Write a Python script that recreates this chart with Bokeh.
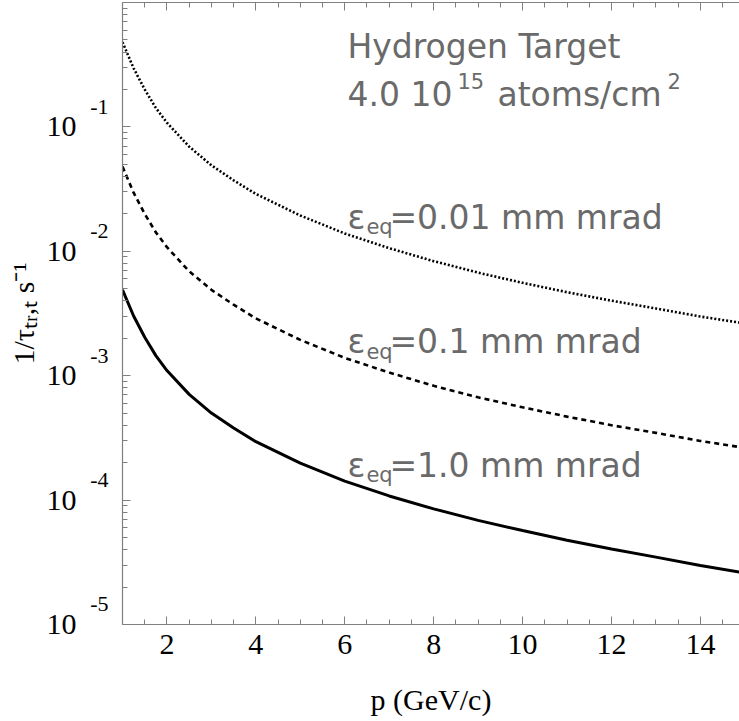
from bokeh.plotting import figure
from bokeh.models import Range1d, LinearAxis, LogAxis, Label, FixedTicker, CustomJSTickFormatter
from bokeh.embed import file_html
from bokeh.resources import INLINE

# ---- data ----
p_gev = [1, 1.25, 1.5, 1.75, 2, 2.5, 3, 3.5, 4, 5, 6, 7, 8, 9, 10, 11, 12, 13, 14, 15]
rate_eps_1_0 = [4.90e-3, 3.02e-3, 2.04e-3, 1.45e-3, 1.10e-3, 7.08e-4, 5.01e-4, 3.80e-4,
                2.95e-4, 1.98e-4, 1.42e-4, 1.08e-4, 8.50e-5, 6.87e-5, 5.69e-5, 4.75e-5,
                4.05e-5, 3.48e-5, 2.98e-5, 2.60e-5]
rate_eps_0_1 = [4.80e-2, 2.96e-2, 2.00e-2, 1.42e-2, 1.08e-2, 6.90e-3, 4.90e-3, 3.72e-3,
                2.89e-3, 1.94e-3, 1.39e-3, 1.06e-3, 8.30e-4, 6.70e-4, 5.57e-4, 4.69e-4,
                4.00e-4, 3.47e-4, 2.99e-4, 2.63e-4]
rate_eps_0_01 = [4.80e-1, 2.96e-1, 2.00e-1, 1.42e-1, 1.08e-1, 6.94e-2, 4.91e-2, 3.72e-2,
                 2.89e-2, 1.94e-2, 1.39e-2, 1.06e-2, 8.33e-3, 6.73e-3, 5.58e-3, 4.69e-3,
                 4.01e-3, 3.47e-3, 2.99e-3, 2.63e-3]
x_major_ticks = [2, 4, 6, 8, 10, 12, 14]
y_decades = [1e-5, 1e-4, 1e-3, 1e-2, 1e-1]
curve_labels = ["=0.01 mm mrad", "=0.1 mm mrad", "=1.0 mm mrad"]

AXIS_GRAY = "#808080"
TEXT_GRAY = "#6a6a6a"
SERIF = "Liberation Serif"
SANS = "DejaVu Sans"

p = figure(width=739, height=721, x_range=Range1d(1, 14.88), y_range=Range1d(1e-5, 1),
           y_axis_type="log", output_backend="svg", toolbar_location=None,
           min_border_left=122, min_border_right=0, min_border_top=2, min_border_bottom=97,
           outline_line_color=None, background_fill_color="white", border_fill_color="white")
p.xgrid.visible = False
p.ygrid.visible = False

x_minor = [m / 2 for m in range(2, 31)]
x_ticker = FixedTicker(ticks=x_major_ticks, minor_ticks=x_minor)
y_minor = [k * d for d in y_decades for k in range(2, 10)]
y_ticker = FixedTicker(ticks=y_decades, minor_ticks=y_minor)
blank = CustomJSTickFormatter(code="return '';")


def style_axis(ax):
    ax.axis_line_color = AXIS_GRAY
    ax.axis_line_width = 1.2
    ax.major_tick_line_color = AXIS_GRAY
    ax.minor_tick_line_color = AXIS_GRAY
    ax.major_tick_in = 8
    ax.major_tick_out = 0
    ax.minor_tick_in = 5
    ax.minor_tick_out = 0


def bare_axis(ax):
    ax.axis_line_color = None
    ax.major_tick_line_color = None
    ax.minor_tick_line_color = None
    ax.major_tick_in = 0
    ax.major_tick_out = 0
    ax.minor_tick_in = 0
    ax.minor_tick_out = 0


# bottom axis
xa = p.xaxis[0]
xa.ticker = x_ticker
style_axis(xa)
xa.major_label_text_font = SERIF
xa.major_label_text_font_size = "30px"
xa.major_label_text_color = "black"
xa.major_label_standoff = 10
xa.axis_label = "p (GeV/c)"
xa.axis_label_text_font = SERIF
xa.axis_label_text_font_size = "30px"
xa.axis_label_text_font_style = "normal"
xa.axis_label_text_color = "black"
xa.axis_label_standoff = 26

# top axis (ticks only)
ta = LinearAxis(ticker=x_ticker, formatter=blank, major_label_text_alpha=0,
                major_label_standoff=0)
style_axis(ta)
p.add_layout(ta, "above")

# left axis 1 (at the frame): ticks only
ya = p.yaxis[0]
ya.ticker = y_ticker
style_axis(ya)
ya.formatter = blank
ya.major_label_text_alpha = 0
ya.major_label_standoff = 0

# left axis 2: exponents, raised above each decade tick
ye = LogAxis(ticker=FixedTicker(ticks=[d * 1.45 for d in y_decades], minor_ticks=[]),
             formatter=CustomJSTickFormatter(code="return String(Math.floor(Math.log10(tick)));"),
             major_label_text_font=SERIF, major_label_text_font_size="22px",
             major_label_text_color="black", major_label_standoff=14)
bare_axis(ye)
p.add_layout(ye, "left")

# left axis 3: "10" mantissas and the axis title
y10 = LogAxis(ticker=FixedTicker(ticks=y_decades, minor_ticks=[]),
              formatter=CustomJSTickFormatter(code="return '10';"),
              major_label_text_font=SERIF, major_label_text_font_size="30px",
              major_label_text_color="black", major_label_standoff=11,
              axis_label="1/\u03c4\u209c\u1d63,\u209c s\u207b\u00b9",
              axis_label_text_font=SERIF, axis_label_text_font_size="30px",
              axis_label_text_font_style="normal", axis_label_text_color="black",
              axis_label_standoff=4)
bare_axis(y10)
p.add_layout(y10, "left")

# curves
p.line(p_gev, rate_eps_0_01, line_color="black", line_width=2.6, line_dash="2 2")
p.line(p_gev, rate_eps_0_1, line_color="black", line_width=2.6, line_dash="5 4")
p.line(p_gev, rate_eps_1_0, line_color="black", line_width=3)

# annotations
x0 = 6.06
FS = "33px"
y_h, y_n = 0.44, 0.182
p.add_layout(Label(x=x0, y=y_h, text="Hydrogen Target", text_font=SANS, text_font_size=FS,
                   text_color=TEXT_GRAY, text_baseline="alphabetic"))
p.add_layout(Label(x=x0, y=y_n, text="4.0 10", text_font=SANS, text_font_size=FS,
                   text_color=TEXT_GRAY, text_baseline="alphabetic"))
p.add_layout(Label(x=x0, y=y_n, x_offset=110, y_offset=14, text="15", text_font=SANS,
                   text_font_size="21px", text_color=TEXT_GRAY, text_baseline="alphabetic"))
p.add_layout(Label(x=x0, y=y_n, x_offset=150, text="atoms/cm", text_font=SANS,
                   text_font_size=FS, text_color=TEXT_GRAY, text_baseline="alphabetic"))
p.add_layout(Label(x=x0, y=y_n, x_offset=320, y_offset=14, text="2", text_font=SANS,
                   text_font_size="21px", text_color=TEXT_GRAY, text_baseline="alphabetic"))

label_baselines = [0.0187, 1.88e-3, 1.90e-4]
for yb, txt in zip(label_baselines, curve_labels):
    p.add_layout(Label(x=x0, y=yb, text="\u03b5", text_font=SANS, text_font_size=FS,
                       text_color=TEXT_GRAY, text_baseline="alphabetic"))
    p.add_layout(Label(x=x0, y=yb, x_offset=19, y_offset=-10, text="eq", text_font=SANS,
                       text_font_size="21px", text_color=TEXT_GRAY, text_baseline="alphabetic"))
    p.add_layout(Label(x=x0, y=yb, x_offset=42, text=txt, text_font=SANS, text_font_size=FS,
                       text_color=TEXT_GRAY, text_baseline="alphabetic"))

open("out.html", "w").write(file_html(p, INLINE))
